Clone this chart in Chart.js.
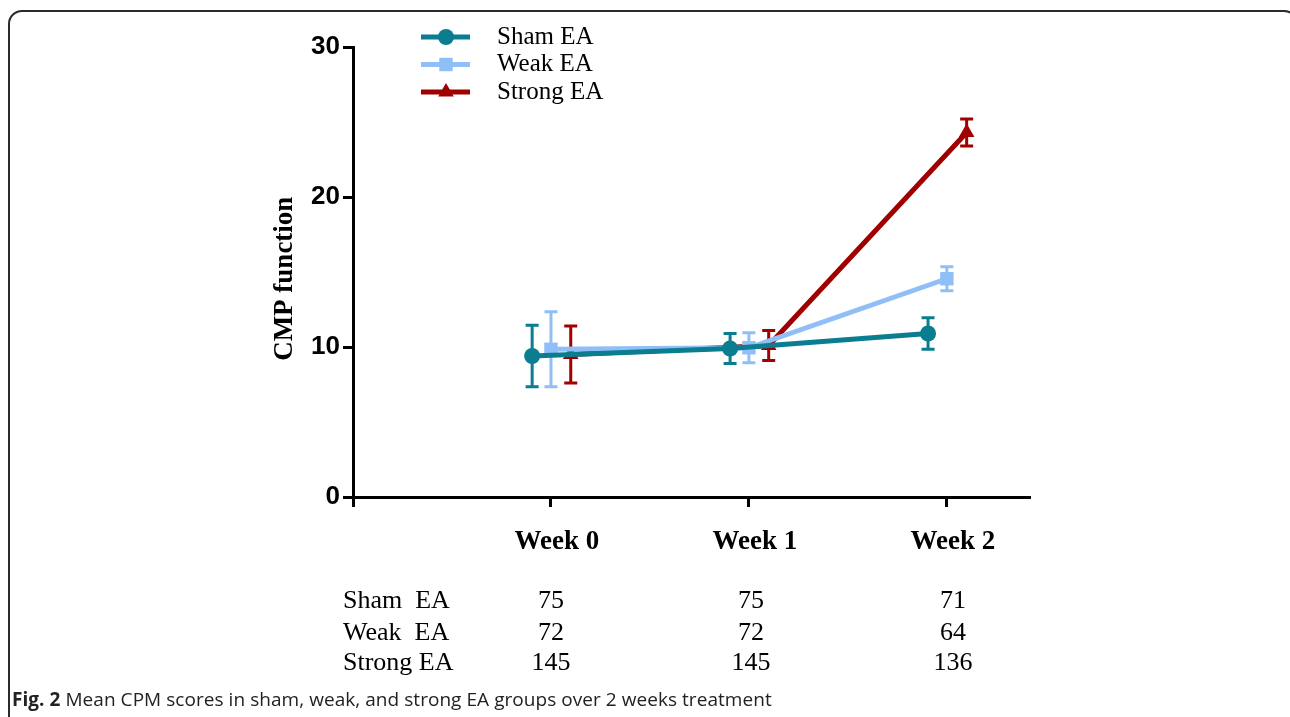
<!DOCTYPE html>
<html>
<head>
<meta charset="utf-8">
<script src="https://cdn.jsdelivr.net/npm/chart.js@4"></script>
<style>
  html, body { margin: 0; padding: 0; background: #fff; }
  body { width: 1290px; height: 717px; position: relative; overflow: hidden; }
  #frame { position: absolute; left: 8px; top: 10px; width: 1290px; height: 760px;
           border: 2px solid #2b2b2b; border-radius: 14px; box-sizing: border-box; }
  #wrap { position: absolute; left: 0; top: 0; width: 1290px; height: 717px; }
  .cell { position: absolute; font-family: "Liberation Serif", serif; font-size: 26px;
          color: #000; line-height: 1; white-space: pre; }
  #caption { position: absolute; left: 12px; top: 686px; font-family: "Open Sans", sans-serif;
             font-size: 19px; color: #222; white-space: nowrap; letter-spacing: 0.05px; }
</style>
</head>
<body>
<div id="frame"></div>
<div id="wrap"><canvas id="myChart" width="1290" height="717"></canvas></div>
<div id="table"></div>
<div id="caption"><b>Fig. 2</b> Mean CPM scores in sham, weak, and strong EA groups over 2 weeks treatment</div>
<script>
// data
const weeks = ['Week 0', 'Week 1', 'Week 2'];
const groups = ['Sham EA', 'Weak EA', 'Strong EA'];
const shamMean = [9.4, 9.9, 10.9];
const shamErr = [2.05, 1.0, 1.05];
const weakMean = [9.85, 9.95, 14.55];
const weakErr = [2.5, 1.0, 0.8];
const strongMean = [9.5, 10.1, 24.3];
const strongErr = [1.9, 1.0, 0.9];
const shamN = [75, 75, 71];
const weakN = [72, 72, 64];
const strongN = [145, 145, 136];
const yTicks = [0, 10, 20, 30];

// styling
const colors = ['#0b7d91', '#90bff8', '#a00000'];
const markers = ['circle', 'rect', 'triangle'];
const markerSize = [8, 9.5, 9];
const xShift = [-0.095, 0, 0.1];   // dodge so error bars don't overlap

const means = [shamMean, weakMean, strongMean];
const errs = [shamErr, weakErr, strongErr];

const datasets = groups.map((g, s) => ({
    label: g,
    data: means[s].map((v, i) => ({ x: i + xShift[s], y: v, err: errs[s][i] })),
    borderColor: colors[s],
    backgroundColor: colors[s],
    borderWidth: 5,
    pointStyle: markers[s],
    pointRadius: markerSize[s],
    pointBorderWidth: 0,
    pointBackgroundColor: colors[s],
    tension: 0
}));

// error bars drawn through the chart's own scales
const errorBars = {
    id: 'errorBars',
    beforeDatasetsDraw(chart) {
        const ctx = chart.ctx;
        const xs = chart.scales.x, ys = chart.scales.y;
        chart.data.datasets.forEach(ds => {
            ctx.save();
            ctx.strokeStyle = ds.borderColor;
            ctx.lineWidth = 3;
            ds.data.forEach(p => {
                const x = xs.getPixelForValue(p.x);
                const top = ys.getPixelForValue(p.y + p.err);
                const bot = ys.getPixelForValue(p.y - p.err);
                ctx.beginPath();
                ctx.moveTo(x, top); ctx.lineTo(x, bot);
                ctx.moveTo(x - 6.5, top); ctx.lineTo(x + 6.5, top);
                ctx.moveTo(x - 6.5, bot); ctx.lineTo(x + 6.5, bot);
                ctx.stroke();
            });
            ctx.restore();
        });
    }
};

// legend in the top left like the original
const sideLegend = {
    id: 'sideLegend',
    afterDraw(chart) {
        const ctx = chart.ctx;
        chart.data.datasets.forEach((ds, i) => {
            const y = 37 + i * 27.5;
            ctx.save();
            ctx.strokeStyle = ds.borderColor;
            ctx.lineWidth = 5;
            ctx.beginPath();
            ctx.moveTo(421, y); ctx.lineTo(470, y);
            ctx.stroke();
            ctx.fillStyle = ds.borderColor;
            Chart.helpers.drawPoint(ctx, { pointStyle: ds.pointStyle, radius: ds.pointRadius, borderWidth: 0 }, 446, y);
            ctx.fillStyle = '#000';
            ctx.font = '25px "Liberation Serif"';
            ctx.textBaseline = 'middle';
            ctx.fillText(ds.label, 497, y);
            ctx.restore();
        });
    }
};

const ctx = document.getElementById('myChart').getContext('2d');
const chart = new Chart(ctx, {
    type: 'line',
    data: { datasets: datasets },
    options: {
        responsive: false,
        animation: false,
        layout: { padding: { left: 260, top: 47, right: 260, bottom: 160 } },
        plugins: { legend: { display: false }, tooltip: { enabled: false } },
        scales: {
            x: {
                type: 'linear',
                min: -1,
                max: 2.42,
                afterBuildTicks: s => { s.ticks = [-1, 0, 1, 2].map(v => ({ value: v })); },
                afterFit: s => { s.height = 60; },
                ticks: {
                    callback: v => (v >= 0 ? weeks[v] : ''),
                    color: '#000',
                    font: { family: 'Liberation Serif', size: 27, weight: 'bold' },
                    padding: 19,
                    labelOffset: 6,
                    maxRotation: 0
                },
                grid: { drawOnChartArea: false, drawTicks: true, tickLength: 10, tickWidth: 3, tickColor: '#000' },
                border: { display: true, width: 3, color: '#000' }
            },
            y: {
                min: 0,
                max: 30,
                afterBuildTicks: s => { s.ticks = yTicks.map(v => ({ value: v })); },
                afterFit: s => { s.width = 93; },
                ticks: {
                    color: '#000',
                    font: { family: 'Liberation Sans', size: 26, weight: 'bold' },
                    padding: 3
                },
                title: {
                    display: true,
                    text: 'CMP function  ',
                    color: '#000',
                    font: { family: 'Liberation Serif', size: 27, weight: 'bold' },
                    padding: { top: 9, bottom: 0 }
                },
                grid: { drawOnChartArea: false, drawTicks: true, tickLength: 10, tickWidth: 3, tickColor: '#000' },
                border: { display: true, width: 3, color: '#000' }
            }
        }
    },
    plugins: [errorBars, sideLegend]
});

// sample size table under the axis
const counts = [shamN, weakN, strongN];
const rowLabels = ['Sham  EA', 'Weak  EA', 'Strong EA'];
const rowY = [587, 619, 649];
const colX = [551, 751, 953];
const table = document.getElementById('table');
counts.forEach((row, r) => {
    const lab = document.createElement('div');
    lab.className = 'cell';
    lab.style.left = '343px';
    lab.style.top = rowY[r] + 'px';
    lab.textContent = rowLabels[r];
    table.appendChild(lab);
    row.forEach((n, c) => {
        const d = document.createElement('div');
        d.className = 'cell';
        d.style.left = (colX[c] - 40) + 'px';
        d.style.width = '80px';
        d.style.textAlign = 'center';
        d.style.top = rowY[r] + 'px';
        d.textContent = n;
        table.appendChild(d);
    });
});
</script>
</body>
</html>
